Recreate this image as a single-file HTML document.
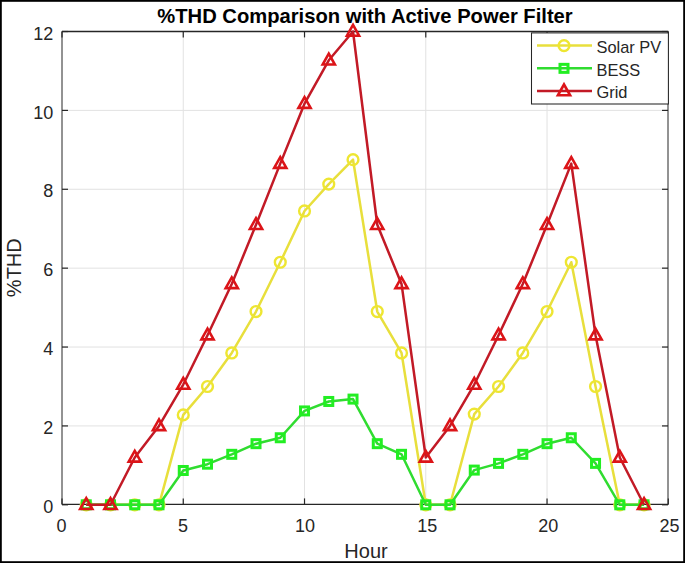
<!DOCTYPE html>
<html><head><meta charset="utf-8"><style>
html,body{margin:0;padding:0;background:#fff;}
svg{display:block;font-family:"Liberation Sans",sans-serif;}
</style></head><body>
<svg width="685" height="563" viewBox="0 0 685 563">
<rect x="0.9" y="0.9" width="683.2" height="561.2" fill="#fff" stroke="#000" stroke-width="1.8"/>
<line x1="183.26" y1="31.4" x2="183.26" y2="504.4" stroke="#e2e2e2" stroke-width="1"/>
<line x1="304.52" y1="31.4" x2="304.52" y2="504.4" stroke="#e2e2e2" stroke-width="1"/>
<line x1="425.78" y1="31.4" x2="425.78" y2="504.4" stroke="#e2e2e2" stroke-width="1"/>
<line x1="547.04" y1="31.4" x2="547.04" y2="504.4" stroke="#e2e2e2" stroke-width="1"/>
<line x1="62.0" y1="425.92" x2="668.3" y2="425.92" stroke="#e2e2e2" stroke-width="1"/>
<line x1="62.0" y1="347.04" x2="668.3" y2="347.04" stroke="#e2e2e2" stroke-width="1"/>
<line x1="62.0" y1="268.16" x2="668.3" y2="268.16" stroke="#e2e2e2" stroke-width="1"/>
<line x1="62.0" y1="189.28" x2="668.3" y2="189.28" stroke="#e2e2e2" stroke-width="1"/>
<line x1="62.0" y1="110.40" x2="668.3" y2="110.40" stroke="#e2e2e2" stroke-width="1"/>
<line x1="62.0" y1="31.5" x2="668.3" y2="31.5" stroke="#262626" stroke-width="1.3"/>
<line x1="62.0" y1="504.4" x2="668.3" y2="504.4" stroke="#262626" stroke-width="1.4"/>
<line x1="62.0" y1="31.4" x2="62.0" y2="504.4" stroke="#262626" stroke-width="1.0"/>
<line x1="668.0" y1="31.4" x2="668.0" y2="504.4" stroke="#262626" stroke-width="1.0"/>
<line x1="62.00" y1="504.4" x2="62.00" y2="498.4" stroke="#262626" stroke-width="1.2"/>
<line x1="62.00" y1="31.4" x2="62.00" y2="37.4" stroke="#262626" stroke-width="1.2"/>
<text x="61.50" y="531.5" text-anchor="middle" font-size="18" fill="#262626">0</text>
<line x1="183.26" y1="504.4" x2="183.26" y2="498.4" stroke="#262626" stroke-width="1.2"/>
<line x1="183.26" y1="31.4" x2="183.26" y2="37.4" stroke="#262626" stroke-width="1.2"/>
<text x="183.06" y="531.5" text-anchor="middle" font-size="18" fill="#262626">5</text>
<line x1="304.52" y1="504.4" x2="304.52" y2="498.4" stroke="#262626" stroke-width="1.2"/>
<line x1="304.52" y1="31.4" x2="304.52" y2="37.4" stroke="#262626" stroke-width="1.2"/>
<text x="305.12" y="531.5" text-anchor="middle" font-size="18" fill="#262626">10</text>
<line x1="425.78" y1="504.4" x2="425.78" y2="498.4" stroke="#262626" stroke-width="1.2"/>
<line x1="425.78" y1="31.4" x2="425.78" y2="37.4" stroke="#262626" stroke-width="1.2"/>
<text x="427.28" y="531.5" text-anchor="middle" font-size="18" fill="#262626">15</text>
<line x1="547.04" y1="504.4" x2="547.04" y2="498.4" stroke="#262626" stroke-width="1.2"/>
<line x1="547.04" y1="31.4" x2="547.04" y2="37.4" stroke="#262626" stroke-width="1.2"/>
<text x="548.34" y="531.5" text-anchor="middle" font-size="18" fill="#262626">20</text>
<line x1="668.30" y1="504.4" x2="668.30" y2="498.4" stroke="#262626" stroke-width="1.2"/>
<line x1="668.30" y1="31.4" x2="668.30" y2="37.4" stroke="#262626" stroke-width="1.2"/>
<text x="669.50" y="531.5" text-anchor="middle" font-size="18" fill="#262626">25</text>
<line x1="62.0" y1="504.80" x2="68.0" y2="504.80" stroke="#262626" stroke-width="1.2"/>
<line x1="668.0" y1="504.80" x2="662.0" y2="504.80" stroke="#262626" stroke-width="1.2"/>
<text x="53.3" y="512.90" text-anchor="end" font-size="18" fill="#262626">0</text>
<line x1="62.0" y1="425.92" x2="68.0" y2="425.92" stroke="#262626" stroke-width="1.2"/>
<line x1="668.0" y1="425.92" x2="662.0" y2="425.92" stroke="#262626" stroke-width="1.2"/>
<text x="53.3" y="434.02" text-anchor="end" font-size="18" fill="#262626">2</text>
<line x1="62.0" y1="347.04" x2="68.0" y2="347.04" stroke="#262626" stroke-width="1.2"/>
<line x1="668.0" y1="347.04" x2="662.0" y2="347.04" stroke="#262626" stroke-width="1.2"/>
<text x="53.3" y="355.14" text-anchor="end" font-size="18" fill="#262626">4</text>
<line x1="62.0" y1="268.16" x2="68.0" y2="268.16" stroke="#262626" stroke-width="1.2"/>
<line x1="668.0" y1="268.16" x2="662.0" y2="268.16" stroke="#262626" stroke-width="1.2"/>
<text x="53.3" y="276.26" text-anchor="end" font-size="18" fill="#262626">6</text>
<line x1="62.0" y1="189.28" x2="68.0" y2="189.28" stroke="#262626" stroke-width="1.2"/>
<line x1="668.0" y1="189.28" x2="662.0" y2="189.28" stroke="#262626" stroke-width="1.2"/>
<text x="53.3" y="197.38" text-anchor="end" font-size="18" fill="#262626">8</text>
<line x1="62.0" y1="110.40" x2="68.0" y2="110.40" stroke="#262626" stroke-width="1.2"/>
<line x1="668.0" y1="110.40" x2="662.0" y2="110.40" stroke="#262626" stroke-width="1.2"/>
<text x="53.3" y="118.50" text-anchor="end" font-size="18" fill="#262626">10</text>
<line x1="62.0" y1="31.52" x2="68.0" y2="31.52" stroke="#262626" stroke-width="1.2"/>
<line x1="668.0" y1="31.52" x2="662.0" y2="31.52" stroke="#262626" stroke-width="1.2"/>
<text x="53.3" y="39.62" text-anchor="end" font-size="18" fill="#262626">12</text>
<text x="366" y="558" text-anchor="middle" font-size="20" fill="#262626">Hour</text>
<text transform="translate(21.4,267.7) rotate(-90)" text-anchor="middle" font-size="20" fill="#262626">%THD</text>
<text x="365" y="22.6" text-anchor="middle" font-size="20.2" font-weight="bold" fill="#000">%THD Comparison with Active Power Filter</text>
<polyline points="86.25,504.80 110.50,504.80 134.76,504.80 159.01,504.80 183.26,414.88 207.51,386.48 231.76,352.96 256.02,311.54 280.27,262.24 304.52,210.97 328.77,184.15 353.02,159.70 377.28,311.54 401.53,352.96 425.78,504.80 450.03,504.80 474.28,414.09 498.54,386.48 522.79,352.96 547.04,311.54 571.29,262.24 595.54,386.48 619.80,504.80 644.05,504.80" fill="none" stroke="#e8df3c" stroke-width="2.5" stroke-linejoin="round"/>
<circle cx="86.25" cy="504.80" r="5.4" fill="none" stroke="#eee632" stroke-width="2.4"/>
<circle cx="110.50" cy="504.80" r="5.4" fill="none" stroke="#eee632" stroke-width="2.4"/>
<circle cx="134.76" cy="504.80" r="5.4" fill="none" stroke="#eee632" stroke-width="2.4"/>
<circle cx="159.01" cy="504.80" r="5.4" fill="none" stroke="#eee632" stroke-width="2.4"/>
<circle cx="183.26" cy="414.88" r="5.4" fill="none" stroke="#eee632" stroke-width="2.4"/>
<circle cx="207.51" cy="386.48" r="5.4" fill="none" stroke="#eee632" stroke-width="2.4"/>
<circle cx="231.76" cy="352.96" r="5.4" fill="none" stroke="#eee632" stroke-width="2.4"/>
<circle cx="256.02" cy="311.54" r="5.4" fill="none" stroke="#eee632" stroke-width="2.4"/>
<circle cx="280.27" cy="262.24" r="5.4" fill="none" stroke="#eee632" stroke-width="2.4"/>
<circle cx="304.52" cy="210.97" r="5.4" fill="none" stroke="#eee632" stroke-width="2.4"/>
<circle cx="328.77" cy="184.15" r="5.4" fill="none" stroke="#eee632" stroke-width="2.4"/>
<circle cx="353.02" cy="159.70" r="5.4" fill="none" stroke="#eee632" stroke-width="2.4"/>
<circle cx="377.28" cy="311.54" r="5.4" fill="none" stroke="#eee632" stroke-width="2.4"/>
<circle cx="401.53" cy="352.96" r="5.4" fill="none" stroke="#eee632" stroke-width="2.4"/>
<circle cx="425.78" cy="504.80" r="5.4" fill="none" stroke="#eee632" stroke-width="2.4"/>
<circle cx="450.03" cy="504.80" r="5.4" fill="none" stroke="#eee632" stroke-width="2.4"/>
<circle cx="474.28" cy="414.09" r="5.4" fill="none" stroke="#eee632" stroke-width="2.4"/>
<circle cx="498.54" cy="386.48" r="5.4" fill="none" stroke="#eee632" stroke-width="2.4"/>
<circle cx="522.79" cy="352.96" r="5.4" fill="none" stroke="#eee632" stroke-width="2.4"/>
<circle cx="547.04" cy="311.54" r="5.4" fill="none" stroke="#eee632" stroke-width="2.4"/>
<circle cx="571.29" cy="262.24" r="5.4" fill="none" stroke="#eee632" stroke-width="2.4"/>
<circle cx="595.54" cy="386.48" r="5.4" fill="none" stroke="#eee632" stroke-width="2.4"/>
<circle cx="619.80" cy="504.80" r="5.4" fill="none" stroke="#eee632" stroke-width="2.4"/>
<circle cx="644.05" cy="504.80" r="5.4" fill="none" stroke="#eee632" stroke-width="2.4"/>
<polyline points="86.25,504.80 110.50,504.80 134.76,504.80 159.01,504.80 183.26,470.49 207.51,464.18 231.76,454.32 256.02,443.67 280.27,437.75 304.52,410.93 328.77,401.47 353.02,399.10 377.28,443.67 401.53,454.32 425.78,504.80 450.03,504.80 474.28,470.09 498.54,463.39 522.79,454.32 547.04,443.67 571.29,437.75 595.54,463.39 619.80,504.80 644.05,504.80" fill="none" stroke="#30dc30" stroke-width="2.5" stroke-linejoin="round"/>
<rect x="82.25" y="500.80" width="8.0" height="8.0" fill="none" stroke="#22ee22" stroke-width="3.0"/>
<rect x="106.50" y="500.80" width="8.0" height="8.0" fill="none" stroke="#22ee22" stroke-width="3.0"/>
<rect x="130.76" y="500.80" width="8.0" height="8.0" fill="none" stroke="#22ee22" stroke-width="3.0"/>
<rect x="155.01" y="500.80" width="8.0" height="8.0" fill="none" stroke="#22ee22" stroke-width="3.0"/>
<rect x="179.26" y="466.49" width="8.0" height="8.0" fill="none" stroke="#22ee22" stroke-width="3.0"/>
<rect x="203.51" y="460.18" width="8.0" height="8.0" fill="none" stroke="#22ee22" stroke-width="3.0"/>
<rect x="227.76" y="450.32" width="8.0" height="8.0" fill="none" stroke="#22ee22" stroke-width="3.0"/>
<rect x="252.02" y="439.67" width="8.0" height="8.0" fill="none" stroke="#22ee22" stroke-width="3.0"/>
<rect x="276.27" y="433.75" width="8.0" height="8.0" fill="none" stroke="#22ee22" stroke-width="3.0"/>
<rect x="300.52" y="406.93" width="8.0" height="8.0" fill="none" stroke="#22ee22" stroke-width="3.0"/>
<rect x="324.77" y="397.47" width="8.0" height="8.0" fill="none" stroke="#22ee22" stroke-width="3.0"/>
<rect x="349.02" y="395.10" width="8.0" height="8.0" fill="none" stroke="#22ee22" stroke-width="3.0"/>
<rect x="373.28" y="439.67" width="8.0" height="8.0" fill="none" stroke="#22ee22" stroke-width="3.0"/>
<rect x="397.53" y="450.32" width="8.0" height="8.0" fill="none" stroke="#22ee22" stroke-width="3.0"/>
<rect x="421.78" y="500.80" width="8.0" height="8.0" fill="none" stroke="#22ee22" stroke-width="3.0"/>
<rect x="446.03" y="500.80" width="8.0" height="8.0" fill="none" stroke="#22ee22" stroke-width="3.0"/>
<rect x="470.28" y="466.09" width="8.0" height="8.0" fill="none" stroke="#22ee22" stroke-width="3.0"/>
<rect x="494.54" y="459.39" width="8.0" height="8.0" fill="none" stroke="#22ee22" stroke-width="3.0"/>
<rect x="518.79" y="450.32" width="8.0" height="8.0" fill="none" stroke="#22ee22" stroke-width="3.0"/>
<rect x="543.04" y="439.67" width="8.0" height="8.0" fill="none" stroke="#22ee22" stroke-width="3.0"/>
<rect x="567.29" y="433.75" width="8.0" height="8.0" fill="none" stroke="#22ee22" stroke-width="3.0"/>
<rect x="591.54" y="459.39" width="8.0" height="8.0" fill="none" stroke="#22ee22" stroke-width="3.0"/>
<rect x="615.80" y="500.80" width="8.0" height="8.0" fill="none" stroke="#22ee22" stroke-width="3.0"/>
<rect x="640.05" y="500.80" width="8.0" height="8.0" fill="none" stroke="#22ee22" stroke-width="3.0"/>
<polyline points="86.25,504.80 110.50,504.80 134.76,457.47 159.01,425.92 183.26,384.51 207.51,335.21 231.76,283.94 256.02,224.78 280.27,163.64 304.52,103.70 328.77,60.31 353.02,31.52 377.28,224.78 401.53,283.94 425.78,457.47 450.03,425.92 474.28,384.51 498.54,335.21 522.79,283.94 547.04,224.78 571.29,163.64 595.54,335.21 619.80,457.47 644.05,504.80" fill="none" stroke="#c21a26" stroke-width="2.5" stroke-linejoin="round"/>
<path d="M86.25,498.20 L92.35,509.00 L80.15,509.00 Z" fill="none" stroke="#dc1418" stroke-width="2.6" stroke-linejoin="miter"/>
<path d="M110.50,498.20 L116.60,509.00 L104.40,509.00 Z" fill="none" stroke="#dc1418" stroke-width="2.6" stroke-linejoin="miter"/>
<path d="M134.76,450.87 L140.86,461.67 L128.66,461.67 Z" fill="none" stroke="#dc1418" stroke-width="2.6" stroke-linejoin="miter"/>
<path d="M159.01,419.32 L165.11,430.12 L152.91,430.12 Z" fill="none" stroke="#dc1418" stroke-width="2.6" stroke-linejoin="miter"/>
<path d="M183.26,377.91 L189.36,388.71 L177.16,388.71 Z" fill="none" stroke="#dc1418" stroke-width="2.6" stroke-linejoin="miter"/>
<path d="M207.51,328.61 L213.61,339.41 L201.41,339.41 Z" fill="none" stroke="#dc1418" stroke-width="2.6" stroke-linejoin="miter"/>
<path d="M231.76,277.34 L237.86,288.14 L225.66,288.14 Z" fill="none" stroke="#dc1418" stroke-width="2.6" stroke-linejoin="miter"/>
<path d="M256.02,218.18 L262.12,228.98 L249.92,228.98 Z" fill="none" stroke="#dc1418" stroke-width="2.6" stroke-linejoin="miter"/>
<path d="M280.27,157.04 L286.37,167.84 L274.17,167.84 Z" fill="none" stroke="#dc1418" stroke-width="2.6" stroke-linejoin="miter"/>
<path d="M304.52,97.10 L310.62,107.90 L298.42,107.90 Z" fill="none" stroke="#dc1418" stroke-width="2.6" stroke-linejoin="miter"/>
<path d="M328.77,53.71 L334.87,64.51 L322.67,64.51 Z" fill="none" stroke="#dc1418" stroke-width="2.6" stroke-linejoin="miter"/>
<path d="M353.02,24.92 L359.12,35.72 L346.92,35.72 Z" fill="none" stroke="#dc1418" stroke-width="2.6" stroke-linejoin="miter"/>
<path d="M377.28,218.18 L383.38,228.98 L371.18,228.98 Z" fill="none" stroke="#dc1418" stroke-width="2.6" stroke-linejoin="miter"/>
<path d="M401.53,277.34 L407.63,288.14 L395.43,288.14 Z" fill="none" stroke="#dc1418" stroke-width="2.6" stroke-linejoin="miter"/>
<path d="M425.78,450.87 L431.88,461.67 L419.68,461.67 Z" fill="none" stroke="#dc1418" stroke-width="2.6" stroke-linejoin="miter"/>
<path d="M450.03,419.32 L456.13,430.12 L443.93,430.12 Z" fill="none" stroke="#dc1418" stroke-width="2.6" stroke-linejoin="miter"/>
<path d="M474.28,377.91 L480.38,388.71 L468.18,388.71 Z" fill="none" stroke="#dc1418" stroke-width="2.6" stroke-linejoin="miter"/>
<path d="M498.54,328.61 L504.64,339.41 L492.44,339.41 Z" fill="none" stroke="#dc1418" stroke-width="2.6" stroke-linejoin="miter"/>
<path d="M522.79,277.34 L528.89,288.14 L516.69,288.14 Z" fill="none" stroke="#dc1418" stroke-width="2.6" stroke-linejoin="miter"/>
<path d="M547.04,218.18 L553.14,228.98 L540.94,228.98 Z" fill="none" stroke="#dc1418" stroke-width="2.6" stroke-linejoin="miter"/>
<path d="M571.29,157.04 L577.39,167.84 L565.19,167.84 Z" fill="none" stroke="#dc1418" stroke-width="2.6" stroke-linejoin="miter"/>
<path d="M595.54,328.61 L601.64,339.41 L589.44,339.41 Z" fill="none" stroke="#dc1418" stroke-width="2.6" stroke-linejoin="miter"/>
<path d="M619.80,450.87 L625.90,461.67 L613.70,461.67 Z" fill="none" stroke="#dc1418" stroke-width="2.6" stroke-linejoin="miter"/>
<path d="M644.05,498.20 L650.15,509.00 L637.95,509.00 Z" fill="none" stroke="#dc1418" stroke-width="2.6" stroke-linejoin="miter"/>
<rect x="531.5" y="32.9" width="136.89999999999998" height="71.1" fill="#fff" stroke="#262626" stroke-width="1.05"/>
<line x1="537" y1="45.6" x2="592" y2="45.6" stroke="#e8df3c" stroke-width="2.5"/>
<circle cx="564.00" cy="45.60" r="5.4" fill="none" stroke="#eee632" stroke-width="2.4"/>
<text x="596.5" y="52.80" font-size="16.4" fill="#262626">Solar PV</text>
<line x1="537" y1="68.35" x2="592" y2="68.35" stroke="#30dc30" stroke-width="2.5"/>
<rect x="560.00" y="64.35" width="8.0" height="8.0" fill="none" stroke="#22ee22" stroke-width="3.0"/>
<text x="596.5" y="75.55" font-size="16.4" fill="#262626">BESS</text>
<line x1="537" y1="91.1" x2="592" y2="91.1" stroke="#c21a26" stroke-width="2.5"/>
<path d="M564.00,84.50 L570.10,95.30 L557.90,95.30 Z" fill="none" stroke="#dc1418" stroke-width="2.6" stroke-linejoin="miter"/>
<text x="596.5" y="98.30" font-size="16.4" fill="#262626">Grid</text>
</svg>
</body></html>
